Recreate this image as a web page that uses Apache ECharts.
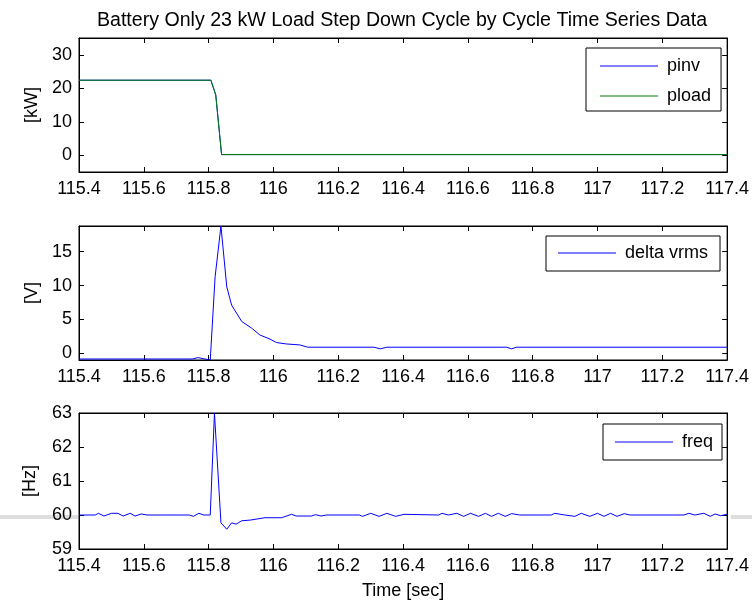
<!DOCTYPE html>
<html>
<head>
<meta charset="utf-8">
<script src="https://cdn.jsdelivr.net/npm/echarts@6/dist/echarts.min.js"></script>
<style>
html,body{margin:0;padding:0;background:#fff;}
#chart{width:752px;height:601px;}
</style>
</head>
<body>
<div id="chart"></div>
<script>
// ---- Data ----
const titleText = 'Battery Only 23 kW Load Step Down Cycle by Cycle Time Series Data';
const xTicks = [115.4, 115.6, 115.8, 116, 116.2, 116.4, 116.6, 116.8, 117, 117.2, 117.4];

// Panel 1: power [kW]
const pTime  = [115.4, 115.807, 115.822, 115.84, 117.4];
const pinv   = [22.4, 22.4, 18.0, 0.2, 0.2];
const pload  = [22.4, 22.4, 18.0, 0.2, 0.2];
const pTicks = [0, 10, 20, 30];

// Panel 2: delta vrms [V]
const vTime = [115.4, 115.75, 115.767, 115.783, 115.805, 115.82, 115.838, 115.856, 115.871, 115.902,
               115.933, 115.958, 115.989, 116.01, 116.04, 116.081, 116.106, 116.31, 116.33, 116.35,
               116.72, 116.735, 116.75, 117.4];
const dvrms = [-0.85, -0.85, -0.65, -0.8, -1.0, 11.3, 18.8, 9.8, 7.1, 4.7,
               3.7, 2.7, 2.1, 1.57, 1.37, 1.23, 0.89, 0.89, 0.65, 0.89,
               0.89, 0.65, 0.89, 0.89];
const vTicks = [0, 5, 10, 15];

// Panel 3: frequency [Hz]
const fTime = [115.4, 115.45, 115.46, 115.477, 115.5, 115.52, 115.536, 115.558, 115.573, 115.592,
               115.61, 115.74, 115.753, 115.77, 115.785, 115.805, 115.818, 115.838, 115.856, 115.871,
               115.885, 115.902, 115.928, 115.974, 116.025, 116.056, 116.07, 116.117, 116.13, 116.147,
               116.163, 116.265, 116.275, 116.3, 116.326, 116.35, 116.377, 116.403, 116.51, 116.52,
               116.54, 116.566, 116.587, 116.608, 116.633, 116.654, 116.673, 116.694, 116.715, 116.735,
               116.76, 116.857, 116.868, 116.899, 116.93, 116.95, 116.976, 117.0, 117.02, 117.04,
               117.06, 117.083, 117.1, 117.267, 117.282, 117.3, 117.328, 117.348, 117.363, 117.38,
               117.4];
const freq  = [60, 60, 60.05, 59.97, 60.05, 60.05, 59.97, 60.05, 59.97, 60.03,
               60, 60, 59.96, 60.05, 60, 60, 63, 59.77, 59.58, 59.77,
               59.73, 59.83, 59.85, 59.92, 59.92, 60.02, 59.97, 59.97, 60.01, 59.97,
               60, 60, 59.96, 60.05, 59.96, 60.05, 59.96, 60.02, 60, 60.05,
               60, 60.05, 59.96, 60.05, 59.96, 60.05, 59.96, 60.05, 59.96, 60.04,
               60, 60, 60.05, 60, 59.96, 60.05, 59.96, 60.05, 59.96, 60.05,
               59.96, 60.04, 60, 60, 60.05, 60, 60.05, 59.96, 60.03, 59.98,
               60.02];
const fTicks = [59, 60, 61, 62, 63];

// ---- Helpers ----
const zip = (t, v) => t.map((x, i) => [x, v[i]]);
const FONT = 'Liberation Sans, Arial, Helvetica, sans-serif';
const X_MIN = 115.4, X_MAX = 117.4;

const gridStyle = {left: 79, right: 22, show: true, borderColor: '#000', borderWidth: 1, backgroundColor: 'transparent'};
const grids = [
  Object.assign({top: 38, height: 134}, gridStyle),
  Object.assign({top: 226, height: 134}, gridStyle),
  Object.assign({top: 413, height: 137}, gridStyle)
];

function xAxes(gi, showLabel, name) {
  const base = {
    type: 'value', gridIndex: gi, min: X_MIN, max: X_MAX, interval: 0.2,
    axisLine: {show: true, onZero: false, lineStyle: {color: '#000', width: 1}},
    axisTick: {show: true, inside: true, length: 5, lineStyle: {color: '#000'}},
    splitLine: {show: false}
  };
  return [
    Object.assign({}, base, {
      position: 'bottom',
      axisLabel: {show: showLabel, color: '#000', fontSize: 18, fontFamily: FONT, margin: 8,
        formatter: v => String(+v.toFixed(1)), hideOverlap: false},
      name: name || '', nameLocation: 'middle', nameGap: 33,
      nameTextStyle: {color: '#000', fontSize: 18, fontFamily: FONT}
    }),
    Object.assign({}, base, {position: 'top', axisLabel: {show: false}})
  ];
}

function yAxes(gi, min, max, ticks, name, gap) {
  const base = {
    type: 'value', gridIndex: gi, min: min, max: max,
    axisLine: {show: true, onZero: false, lineStyle: {color: '#000', width: 1}},
    axisTick: {show: true, inside: true, length: 5, lineStyle: {color: '#000'}, customValues: ticks},
    splitLine: {show: false}
  };
  return [
    Object.assign({}, base, {
      position: 'left',
      axisLabel: {show: true, color: '#000', fontSize: 18, fontFamily: FONT, margin: 7, customValues: ticks},
      name: name, nameLocation: 'middle', nameGap: gap, nameRotate: 90,
      nameTextStyle: {color: '#000', fontSize: 18, fontFamily: FONT}
    }),
    Object.assign({}, base, {position: 'right', axisLabel: {show: false}})
  ];
}

const xAxis = [].concat(xAxes(0, true), xAxes(1, true), xAxes(2, true, 'Time [sec]'));
const yAxis = [].concat(
  yAxes(0, -5, 35, pTicks, '[kW]', 38),
  yAxes(1, -1.0, 18.8, vTicks, '[V]', 38),
  yAxes(2, 59, 63, fTicks, '[Hz]', 40)
);

const lineSeries = (name, data, xi, yi, color, z) => ({
  name, type: 'line', data, xAxisIndex: xi, yAxisIndex: yi,
  symbol: 'none', showSymbol: false, animation: false, z: z || 2,
  lineStyle: {color, width: 1}, itemStyle: {color}
});

const legendBase = {
  orient: 'vertical', backgroundColor: '#fff', borderColor: '#000', borderWidth: 1,
  icon: 'rect', itemWidth: 58, itemHeight: 1, itemGap: 10, borderRadius: 0,
  textStyle: {color: '#000', fontSize: 18, fontFamily: FONT, padding: [0, 0, 0, 4], lineHeight: 20},
  selectedMode: false
};

const option = {
  animation: false,
  backgroundColor: '#fff',
  title: {
    text: titleText, left: 397, top: 6, textAlign: 'center',
    textStyle: {color: '#000', fontSize: 19.6, fontWeight: 'normal', fontFamily: FONT}
  },
  grid: grids,
  xAxis: xAxis,
  yAxis: yAxis,
  legend: [
    Object.assign({}, legendBase, {data: ['pinv', 'pload'], left: 586, top: 48, padding: [8, 10, 5, 14]}),
    Object.assign({}, legendBase, {data: ['delta vrms'], left: 546, top: 236, padding: [7, 12, 8, 12]}),
    Object.assign({}, legendBase, {data: ['freq'], left: 603, top: 424, padding: [8, 9, 8, 12]})
  ],
  graphic: [
    {type: 'rect', shape: {x: 0, y: 515, width: 78, height: 4}, style: {fill: '#dedede'}, z: 0},
    {type: 'rect', shape: {x: 731, y: 515, width: 21, height: 4}, style: {fill: '#dedede'}, z: 0}
  ],
  series: [
    lineSeries('pinv', zip(pTime, pinv), 0, 0, '#0000ff', 2),
    lineSeries('pload', zip(pTime, pload), 0, 0, '#007f00', 3),
    lineSeries('delta vrms', zip(vTime, dvrms), 2, 2, '#0000ff'),
    lineSeries('freq', zip(fTime, freq), 4, 4, '#0000ff')
  ]
};

const chart = echarts.init(document.getElementById('chart'), null, {renderer: 'canvas'});
chart.setOption(option);
</script>
</body>
</html>
